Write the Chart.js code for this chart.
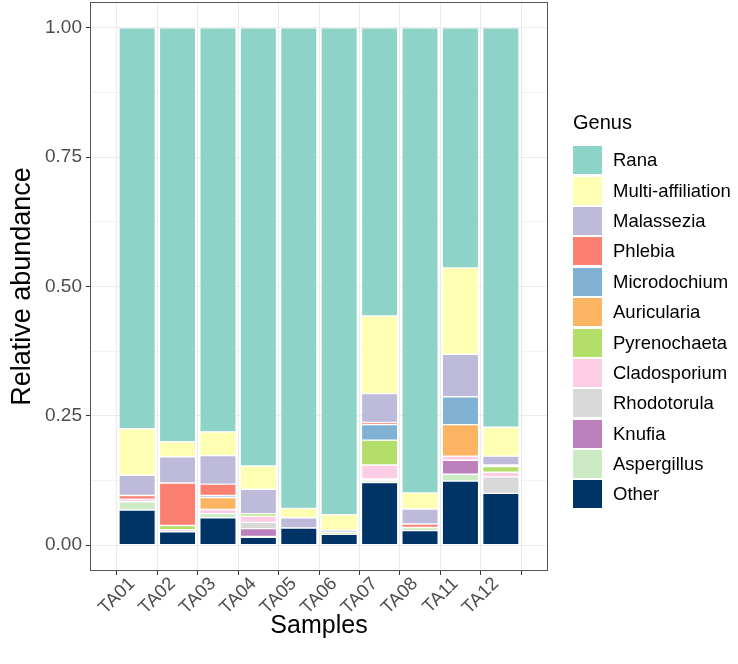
<!DOCTYPE html>
<html>
<head>
<meta charset="utf-8">
<script src="https://cdn.jsdelivr.net/npm/chart.js@4.4.1/dist/chart.umd.min.js"></script>
<style>
  body { margin: 0; background: #fff; }
  #wrap { position: relative; width: 738px; height: 664px; font-family: "Liberation Sans", Arial, sans-serif; }
  #legend { position: absolute; left: 573px; top: 108px; }
  #legend .ttl { font-size: 20px; color: #000; height: 30px; line-height: 28px; margin-bottom: 7px; }
  #legend .row { display: flex; align-items: center; height: 30.4px; }
  #legend .box { width: 29px; height: 28px; margin-right: 11px; }
  #legend .lab { font-size: 18.5px; color: #000; }
</style>
</head>
<body>
<div id="wrap">
  <canvas id="bars" width="738" height="664"></canvas>
  <div id="legend"></div>
</div>
<script>
// relative abundance per sample, stacked bottom -> top
const samples = ['TA01', 'TA02', 'TA03', 'TA04', 'TA05', 'TA06', 'TA07', 'TA08', 'TA11', 'TA12'];

const other        = [0.068, 0.026, 0.053, 0.015, 0.033, 0.021, 0.121, 0.028, 0.124, 0.100];
const aspergillus  = [0.016, 0.000, 0.008, 0.002, 0.000, 0.000, 0.004, 0.006, 0.013, 0.000];
const knufia       = [0.000, 0.000, 0.000, 0.015, 0.000, 0.000, 0.000, 0.000, 0.027, 0.000];
const rhodotorula  = [0.000, 0.000, 0.000, 0.012, 0.000, 0.000, 0.003, 0.000, 0.000, 0.032];
const cladosporium = [0.005, 0.004, 0.008, 0.012, 0.000, 0.000, 0.027, 0.000, 0.008, 0.009];
const pyrenochaeta = [0.000, 0.008, 0.000, 0.005, 0.000, 0.004, 0.048, 0.000, 0.000, 0.011];
const auricularia  = [0.000, 0.000, 0.023, 0.000, 0.000, 0.000, 0.000, 0.000, 0.061, 0.000];
const microdochium = [0.000, 0.000, 0.004, 0.000, 0.000, 0.000, 0.030, 0.000, 0.054, 0.000];
const phlebia      = [0.007, 0.082, 0.022, 0.000, 0.000, 0.000, 0.004, 0.007, 0.000, 0.003];
const malassezia   = [0.039, 0.051, 0.055, 0.047, 0.020, 0.004, 0.056, 0.029, 0.082, 0.017];
const multiAff     = [0.090, 0.029, 0.046, 0.045, 0.018, 0.030, 0.150, 0.031, 0.167, 0.056];
const rana         = [0.775, 0.800, 0.781, 0.847, 0.929, 0.941, 0.557, 0.899, 0.464, 0.772];

const genusNames = ['Other', 'Aspergillus', 'Knufia', 'Rhodotorula', 'Cladosporium', 'Pyrenochaeta',
                    'Auricularia', 'Microdochium', 'Phlebia', 'Malassezia', 'Multi-affiliation', 'Rana'];
const genusValues = [other, aspergillus, knufia, rhodotorula, cladosporium, pyrenochaeta,
                     auricularia, microdochium, phlebia, malassezia, multiAff, rana];
const genusColors = ['#003366', '#CCEBC5', '#BC80BD', '#D9D9D9', '#FCCDE5', '#B3DE69',
                     '#FDB462', '#80B1D3', '#FB8072', '#BEBADA', '#FFFFB3', '#8DD3C7'];

const yTicks = [0, 0.125, 0.25, 0.375, 0.5, 0.625, 0.75, 0.875, 1];
const isMajor = v => Math.abs(v * 4 - Math.round(v * 4)) < 1e-6;

const FONT = '"Liberation Sans", Arial, sans-serif';

const datasets = genusNames.map((g, k) => ({
    label: g,
    data: genusValues[k].map((v, i) => ({ x: i, y: v })),
    backgroundColor: genusColors[k],
    borderColor: 'rgba(255,255,255,0.85)',
    borderWidth: 0.7,
    borderSkipped: false,
    categoryPercentage: 0.9,
    barPercentage: 1.0
}));

// panel border like ggplot theme_bw
const panelBorder = {
    id: 'panelBorder',
    afterDraw(chart) {
        const { ctx, chartArea: a } = chart;
        ctx.save();
        ctx.strokeStyle = '#555';
        ctx.lineWidth = 1;
        ctx.strokeRect(a.left + 0.5, a.top + 0.5, a.right - a.left - 1, a.bottom - a.top - 1);
        ctx.restore();
    }
};

new Chart(document.getElementById('bars'), {
    type: 'bar',
    data: { datasets: datasets },
    options: {
        responsive: false,
        animation: false,
        devicePixelRatio: 1,
        layout: { padding: { top: 2, right: 190, left: 0, bottom: 0 } },
        plugins: {
            legend: { display: false },
            tooltip: { enabled: false }
        },
        scales: {
            x: {
                type: 'linear',
                stacked: true,
                min: -0.6,
                max: 9.6,
                afterBuildTicks: s => { s.ticks = samples.map((_, i) => ({ value: i })); },
                afterFit: s => { s.height = 93; s.paddingLeft = 0; s.paddingRight = 0; },
                ticks: {
                    autoSkip: false,
                    minRotation: 45,
                    maxRotation: 45,
                    padding: -2,
                    labelOffset: -5,
                    color: '#4D4D4D',
                    font: { family: FONT, size: 18.5 },
                    callback: v => samples[v]
                },
                grid: { color: '#EBEBEB', lineWidth: 1, tickLength: 4, tickColor: '#333' },
                border: { display: false },
                title: {
                    display: true,
                    text: 'Samples',
                    color: '#000',
                    font: { family: FONT, size: 25 },
                    padding: { top: 0, bottom: 23 }
                }
            },
            y: {
                stacked: true,
                min: -0.05,
                max: 1.05,
                afterBuildTicks: s => { s.ticks = yTicks.map(v => ({ value: v })); },
                afterFit: s => { s.width = 90; s.paddingTop = 0; s.paddingBottom = 0; },
                ticks: {
                    autoSkip: false,
                    padding: 4,
                    color: '#4D4D4D',
                    font: { family: FONT, size: 19 },
                    callback: v => isMajor(v) ? v.toFixed(2) : ''
                },
                grid: {
                    color: '#EBEBEB',
                    lineWidth: c => isMajor(c.tick.value) ? 1 : 0.6,
                    tickLength: 4,
                    tickColor: c => isMajor(c.tick.value) ? '#333' : 'rgba(0,0,0,0)'
                },
                border: { display: false },
                title: {
                    display: true,
                    text: 'Relative abundance',
                    color: '#000',
                    font: { family: FONT, size: 27 },
                    padding: { top: 6, bottom: 0 }
                }
            }
        }
    },
    plugins: [panelBorder]
});

// legend, top entry first like the stack
const legendDiv = document.getElementById('legend');
let html = '<div class="ttl">Genus</div>';
for (let k = genusNames.length - 1; k >= 0; k--) {
    html += `<div class="row"><span class="box" style="background:${genusColors[k]}"></span><span class="lab">${genusNames[k]}</span></div>`;
}
legendDiv.innerHTML = html;
</script>
</body>
</html>
